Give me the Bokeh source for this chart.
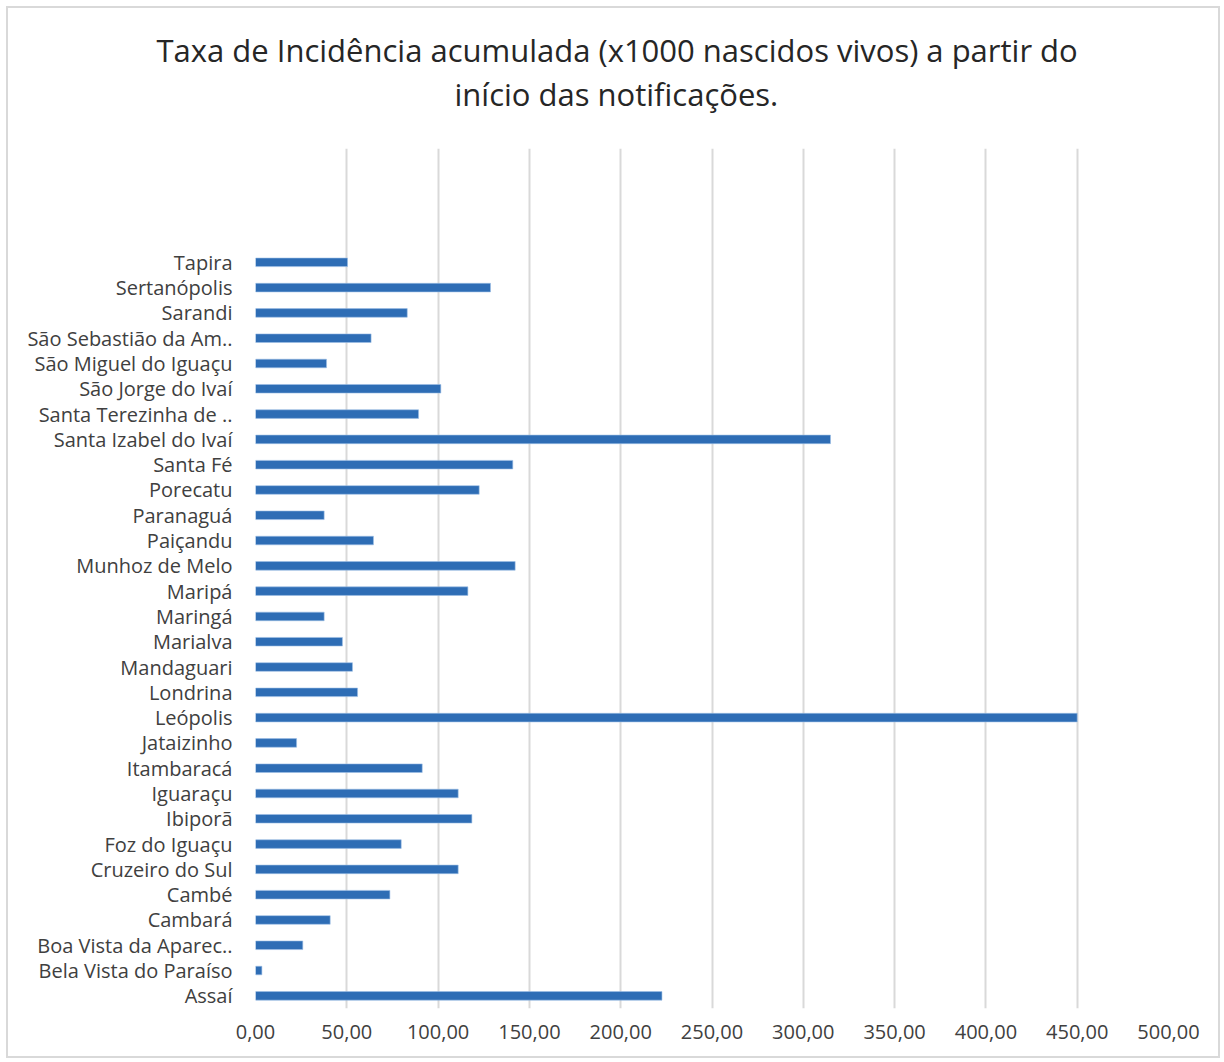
from bokeh.plotting import figure
from bokeh.models import Range1d, FixedTicker, Title
from bokeh.embed import file_html
from bokeh.resources import INLINE

# categories from bottom to top
municipios = [
    "Assaí", "Bela Vista do Paraíso", "Boa Vista da Aparec..", "Cambará", "Cambé",
    "Cruzeiro do Sul", "Foz do Iguaçu", "Ibiporã", "Iguaraçu", "Itambaracá",
    "Jataizinho", "Leópolis", "Londrina", "Mandaguari", "Marialva",
    "Maringá", "Maripá", "Munhoz de Melo", "Paiçandu", "Paranaguá",
    "Porecatu", "Santa Fé", "Santa Izabel do Ivaí", "Santa Terezinha de ..", "São Jorge do Ivaí",
    "São Miguel do Iguaçu", "São Sebastião da Am..", "Sarandi", "Sertanópolis", "Tapira",
]
taxa = [
    222.6, 3.5, 25.9, 40.9, 73.6,
    111.0, 79.8, 118.5, 111.0, 91.3,
    22.5, 450.0, 55.9, 53.1, 47.6,
    37.6, 116.3, 142.2, 64.6, 37.6,
    122.5, 140.9, 314.9, 89.3, 101.5,
    38.9, 63.3, 83.1, 128.7, 50.4,
]
x_ticks = [0, 50, 100, 150, 200, 250, 300, 350, 400, 450, 500]
x_tick_labels = ["0,00", "50,00", "100,00", "150,00", "200,00", "250,00",
                 "300,00", "350,00", "400,00", "450,00", "500,00"]
title_lines = ["Taxa de Incidência acumulada (x1000 nascidos vivos) a partir do",
               "início das notificações."]

FONT = "Open Sans"
pos = list(range(len(municipios)))

p = figure(
    frame_width=913, frame_height=860,
    x_range=Range1d(0, 500), y_range=Range1d(-0.5, len(municipios) - 0.5 + 4),
    output_backend="svg", toolbar_location=None,
    min_border_left=247, min_border_right=50, min_border_top=140, min_border_bottom=48,
    styles={"border": "2px solid #d9d9d9", "margin-left": "6px", "margin-top": "6px"},
)

p.hbar(y=pos, right=taxa, left=0, height=0.34, fill_color="#2E6DB5",
       line_color="#9DBFE6", line_width=0.6)

# spacer between frame and title, then the two title lines (inner line first)
t0 = Title(text=" ", text_font=FONT, text_font_size="23px", standoff=0)
t2 = Title(text=title_lines[1], align="left", text_font=FONT, text_font_size="31px",
           text_font_style="normal", text_color="#262626", standoff=0, offset=199)
t1 = Title(text=title_lines[0], align="left", text_font=FONT, text_font_size="31px",
           text_font_style="normal", text_color="#262626", standoff=0, offset=-99)
p.add_layout(t0, "above")
p.add_layout(t2, "above")
p.add_layout(t1, "above")

p.xaxis.ticker = FixedTicker(ticks=x_ticks)
p.xaxis.major_label_overrides = {t: l for t, l in zip(x_ticks, x_tick_labels)}
p.yaxis.ticker = FixedTicker(ticks=pos)
p.yaxis.major_label_overrides = {i: m for i, m in zip(pos, municipios)}

for ax in (p.xaxis, p.yaxis):
    ax.axis_line_color = None
    ax.major_tick_line_color = None
    ax.minor_tick_line_color = None
    ax.major_tick_out = 0
    ax.major_tick_in = 0
    ax.major_label_text_font = FONT
    ax.major_label_text_font_size = "20px"
    ax.major_label_text_color = "#404040"
p.xaxis.major_label_standoff = 16
p.yaxis.major_label_standoff = 23

p.xgrid.ticker = FixedTicker(ticks=x_ticks)
p.xgrid.grid_line_color = "#d9d9d9"
p.xgrid.grid_line_width = 2
p.ygrid.grid_line_color = None
p.outline_line_color = None

open("out.html", "w").write(file_html(p, INLINE))
